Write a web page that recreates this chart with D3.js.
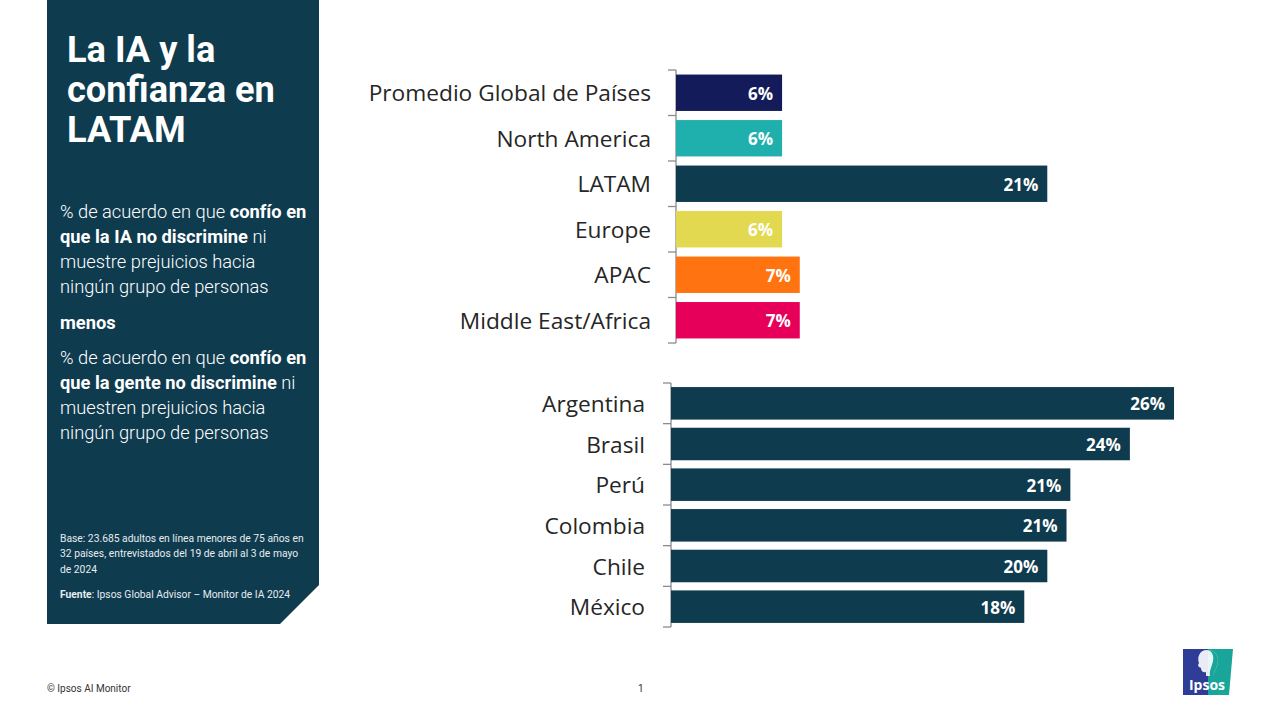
<!DOCTYPE html>
<html><head><meta charset="utf-8">
<script src="https://cdn.jsdelivr.net/npm/d3@7"></script>
<style>
html,body{margin:0;padding:0;background:#fff;}
svg{display:block;}
</style></head>
<body>
<svg id="c" width="1280" height="720"></svg>
<script>
// ---- data ----
const regionCategories = ["Promedio Global de Países","North America","LATAM","Europe","APAC","Middle East/Africa"];
const regionValues = [6.0, 6.0, 21.0, 6.0, 7.0, 7.0];
const regionColors = ["#131b5a","#1fb0ae","#0f3b4f","#e2d951","#ff7411","#e6005a"];
const countryCategories = ["Argentina","Brasil","Perú","Colombia","Chile","México"];
const countryValues = [26.2, 23.9, 20.8, 20.6, 19.6, 18.4];
const countryColor = "#0f3b4f";

const svg = d3.select("#c");
const panel = "#0f3b4f";
const fmt = v => Math.round(v) + "%";

// ---- left panel ----
svg.append("path")
  .attr("d","M47,0 H319 V585 L280,624 H47 Z")
  .attr("fill", panel);

const title = ["La IA y la","confianza en","LATAM"];
svg.append("g").selectAll("text").data(title).join("text")
  .attr("x",67).attr("y",(d,i)=>62+i*40)
  .attr("fill","#fff").attr("font-family","Roboto, sans-serif")
  .attr("font-weight","700").attr("font-size",36.2)
  .text(d=>d);

const bodyLines = [
  [["% de acuerdo en que ",0],["confío en",1]],
  [["que la IA no discrimine",1],[" ni",0]],
  [["muestre prejuicios hacia",0]],
  [["ningún grupo de personas",0]],
  [["menos",1]],
  [["% de acuerdo en que ",0],["confío en",1]],
  [["que la gente no discrimine",1],[" ni",0]],
  [["muestren prejuicios hacia",0]],
  [["ningún grupo de personas",0]]
];
const bodyY = [218,243,268,293,329,364,389,414,439];
const bt = svg.append("g").selectAll("text").data(bodyLines).join("text")
  .attr("x",60).attr("y",(d,i)=>bodyY[i])
  .attr("fill","#fff").attr("font-family","Roboto, sans-serif")
  .attr("font-size",18.3);
bt.selectAll("tspan").data(d=>d).join("tspan")
  .attr("font-weight",d=>d[1]?700:300)
  .text(d=>d[0]);

const notes = [
  [["Base: 23.685 adultos en línea menores de 75 años en",0]],
  [["32 países, entrevistados del 19 de abril al 3 de mayo",0]],
  [["de 2024",0]],
  [["Fuente",1],[": Ipsos Global Advisor – Monitor de IA 2024",0]]
];
const notesY = [542,557,573,598];
const nt = svg.append("g").selectAll("text").data(notes).join("text")
  .attr("x",60).attr("y",(d,i)=>notesY[i])
  .attr("fill","#e6ecef").attr("font-family","Roboto, sans-serif")
  .attr("font-size",10.3);
nt.selectAll("tspan").data(d=>d).join("tspan")
  .attr("font-weight",d=>d[1]?700:400).text(d=>d[0]);

// ---- chart drawer ----
function drawGroup(cats, vals, colors, yRange, x0, pxPerUnit, labelGap){
  const y = d3.scaleBand().domain(cats).range(yRange).paddingInner(0.2).paddingOuter(0.1);
  const x = d3.scaleLinear().domain([0,1]).range([x0, x0+pxPerUnit]);
  const g = svg.append("g");
  const step = y.step();
  const bounds = d3.range(cats.length+1).map(i => yRange[0] + i*step);
  g.append("line").attr("x1",x0).attr("x2",x0).attr("y1",yRange[0]).attr("y2",yRange[1])
    .attr("stroke","#8c8c8c").attr("stroke-width",1.3);
  g.selectAll("line.t").data(bounds).join("line").attr("class","t")
    .attr("x1",x0-8).attr("x2",x0).attr("y1",d=>d).attr("y2",d=>d)
    .attr("stroke","#8c8c8c").attr("stroke-width",1.3);
  const data = cats.map((c,i)=>({c, v:vals[i], col: Array.isArray(colors)?colors[i]:colors}));
  g.selectAll("rect").data(data).join("rect")
    .attr("x",x(0)).attr("y",d=>y(d.c))
    .attr("width",d=>x(d.v)-x(0)).attr("height",y.bandwidth())
    .attr("fill",d=>d.col);
  g.selectAll("text.v").data(data).join("text").attr("class","v")
    .attr("x",d=>x(d.v)-9).attr("y",d=>y(d.c)+y.bandwidth()/2)
    .attr("dy","0.42em").attr("text-anchor","end")
    .attr("fill","#fff").attr("font-family","'Open Sans', sans-serif")
    .attr("font-weight",700).attr("font-size",17)
    .text(d=>fmt(d.v));
  g.selectAll("text.c").data(data).join("text").attr("class","c")
    .attr("x",x0-labelGap).attr("y",d=>y(d.c)+y.bandwidth()/2)
    .attr("dy","0.38em").attr("text-anchor","end")
    .attr("fill","#262626").attr("font-family","'Open Sans', sans-serif")
    .attr("font-size",22.7)
    .text(d=>d.c);
}
drawGroup(regionCategories, regionValues, regionColors, [70,343], 676, 17.68, 25);
drawGroup(countryCategories, countryValues, countryColor, [383,627], 671, 19.2, 26);

// ---- footer ----
svg.append("text").attr("x",47).attr("y",692).attr("font-family","Roboto, sans-serif")
  .attr("font-size",10).attr("fill","#333").text("© Ipsos AI Monitor");
svg.append("text").attr("x",638).attr("y",692).attr("font-family","Roboto, sans-serif")
  .attr("font-size",10).attr("fill","#333").text("1");

// ---- logo ----
const lg = svg.append("g");
lg.append("path").attr("d","M1183,649 H1233 L1229,695 H1183 Z").attr("fill","#1aa59a");
lg.append("path").attr("d","M1183,649 H1208 V695 H1183 Z").attr("fill","#2f3d97");
lg.append("path").attr("d","M1207,650 C1199,650 1197,658 1199,663 C1197,666 1199,667 1201,668 C1201,671 1203,673 1206,672 L1206,676 L1214,676 C1213,671 1218,668 1218,660 C1218,654 1213,650 1207,650 Z")
  .attr("fill","#fff").attr("opacity",0.9);
lg.append("path").attr("d","M1207,650 C1212,651 1214,655 1213,661 C1212,667 1209,670 1210,676 L1214,676 C1213,671 1218,668 1218,660 C1218,654 1213,650 1207,650 Z")
  .attr("fill","#1aa59a");
lg.append("text").attr("x",1207).attr("y",690).attr("text-anchor","middle")
  .attr("font-family","'Open Sans', sans-serif").attr("font-weight",700)
  .attr("font-size",14).attr("fill","#fff").text("Ipsos");
</script>
</body></html>
